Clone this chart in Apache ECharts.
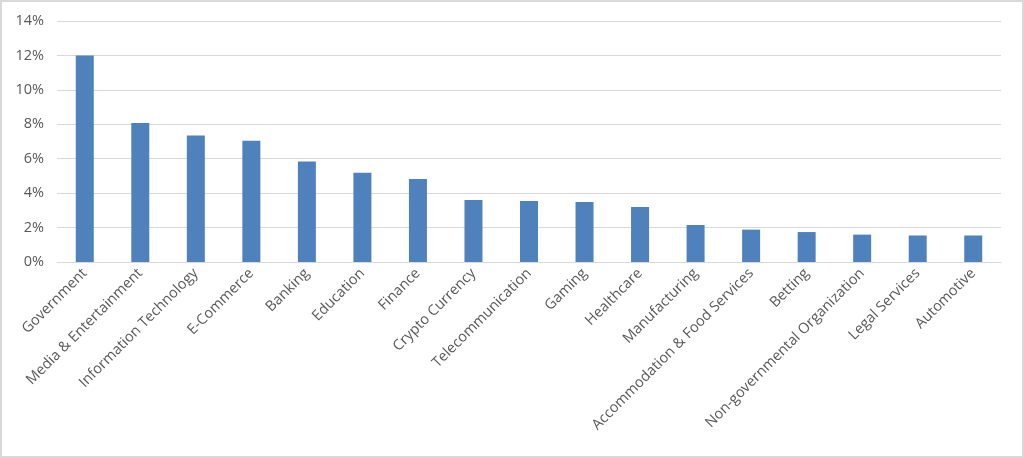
<!DOCTYPE html>
<html>
<head>
<meta charset="utf-8">
<script src="https://cdn.jsdelivr.net/npm/echarts@6/dist/echarts.min.js"></script>
<style>
  html, body { margin: 0; padding: 0; background: #fff; }
  #chart { width: 1024px; height: 458px; box-sizing: border-box; border: 2px solid #d9d9d9; }
</style>
</head>
<body>
<div id="chart"></div>
<script>
// industries, share in percent
const categories = [
  'Government', 'Media & Entertainment', 'Information Technology', 'E-Commerce',
  'Banking', 'Education', 'Finance', 'Crypto Currency', 'Telecommunication',
  'Gaming', 'Healthcare', 'Manufacturing', 'Accommodation & Food Services',
  'Betting', 'Non-governmental Organization', 'Legal Services', 'Automotive'
];
const shares = [12.0, 8.07, 7.35, 7.04, 5.84, 5.19, 4.82, 3.60, 3.54,
  3.48, 3.19, 2.15, 1.88, 1.74, 1.59, 1.54, 1.54];
const yTicks = [0, 14, 2]; // min, max, step

const chart = echarts.init(document.getElementById('chart'));
const font = '"Open Sans", sans-serif';

chart.setOption({
  animation: false,
  grid: { left: 55, right: 21, top: 19, bottom: 194 },
  xAxis: {
    type: 'category',
    data: categories,
    axisLine: { lineStyle: { color: '#d9d9d9', width: 1 } },
    axisTick: { show: false },
    axisLabel: {
      interval: 0,
      rotate: 45,
      margin: 9,
      color: '#595959',
      fontSize: 14.5,
      fontFamily: font
    }
  },
  yAxis: {
    type: 'value',
    min: yTicks[0],
    max: yTicks[1],
    interval: yTicks[2],
    axisLine: { show: false },
    axisTick: { show: false },
    splitLine: { lineStyle: { color: '#d9d9d9', width: 1 } },
    axisLabel: {
      formatter: v => v + '%',
      color: '#595959',
      fontSize: 14.5,
      margin: 13,
      fontFamily: font
    }
  },
  series: [{
    type: 'bar',
    data: shares,
    barWidth: 18,
    itemStyle: { color: '#4f81bd' }
  }]
});
</script>
</body>
</html>
